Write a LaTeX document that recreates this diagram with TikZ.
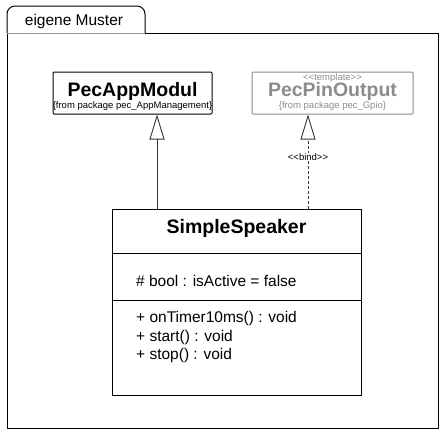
\documentclass[tikz,border=0pt]{standalone}
\usepackage{fontspec}
\setmainfont{Liberation Sans}
\usetikzlibrary{arrows.meta}
\definecolor{tmplgray}{HTML}{8C8C8C}
\definecolor{bordergray}{HTML}{8A8A8A}
\tikzset{
  classbox/.style={draw=black, line width=1pt, rounded corners=1pt, fill=white, inner sep=0pt},
  tmplbox/.style={draw=bordergray, line width=1pt, rounded corners=1pt, fill=white, inner sep=0pt},
  titletext/.style={font=\fontsize{19.5}{22}\selectfont\bfseries, inner sep=0pt},
  smalltext/.style={font=\fontsize{9.5}{11}\selectfont, inner sep=0pt},
  membertext/.style={font=\fontsize{15.5}{18}\selectfont, inner sep=0pt, anchor=west},
  gen/.style={line width=0.9pt, draw=black!80, -{Triangle[open,width=15pt,length=25pt,line width=0.9pt]}},
  bindline/.style={gen, dash pattern=on 3pt off 2pt},
}
\begin{document}
\begin{tikzpicture}[x=1pt,y=-1pt]
\useasboundingbox (0,0) rectangle (448,440);
% package frame
\draw[line width=1pt] (145,33) -- (438,33) -- (438,428) -- (7,428) -- (7,33);
\draw[line width=1pt, rounded corners=8pt] (7,33) -- (7,6) -- (145,6) -- (145,33);
\draw[line width=0.8pt, black!40] (7,33) -- (145,33);
\node[font=\fontsize{15.5}{18}\selectfont, inner sep=0pt] (pkg) at (74,21) {eigene Muster};
% PecAppModul
\node[classbox, minimum width=159pt, minimum height=42pt] (app) at (132.5,93) {};
\node[titletext] (apptitle) at (132.5,91) {PecAppModul};
\node[smalltext] (appfrom) at (132.5,106.5) {\{from package pec\_AppManagement\}};
% PecPinOutput
\node[tmplbox, minimum width=161pt, minimum height=42pt] (pin) at (332.5,93) {};
\node[smalltext, text=tmplgray] (pinst) at (332.5,78) {{<}{<}template{>}{>}};
\node[titletext, text=tmplgray, text height=14pt, text depth=4pt] (pintitle) at (332.5,91.5) {PecPinOutput};
\node[smalltext, text=tmplgray] (pinfrom) at (332.5,106.5) {\{from package pec\_Gpio\}};
% SimpleSpeaker
\node[classbox, rounded corners=0pt, minimum width=249pt, minimum height=186pt] (ss) at (236.5,302) {};
\node[titletext] (sstitle) at (236.5,228.5) {SimpleSpeaker};
\draw[line width=1pt] (ss.west |- 0,253) -- (ss.east |- 0,253);
\draw[line width=1pt] (ss.west |- 0,300) -- (ss.east |- 0,300);
\node[membertext] (attr) at (136,281) {\# bool : isActive = false};
\node[membertext] (m1) at (136,318.5) {+ onTimer10ms() : void};
\node[membertext] (m2) at (136,337) {+ start() : void};
\node[membertext] (m3) at (136,355) {+ stop() : void};
% connectors
\coordinate (gx) at (157,0);
\coordinate (bx) at (308,0);
\draw[gen] (gx |- ss.north) -- (gx |- app.south);
\draw[bindline] (bx |- ss.north) -- (bx |- pin.south);
\node[smalltext, fill=white, inner sep=1pt] (bindlbl) at (308,157) {{<}{<}bind{>}{>}};
\end{tikzpicture}
\end{document}
